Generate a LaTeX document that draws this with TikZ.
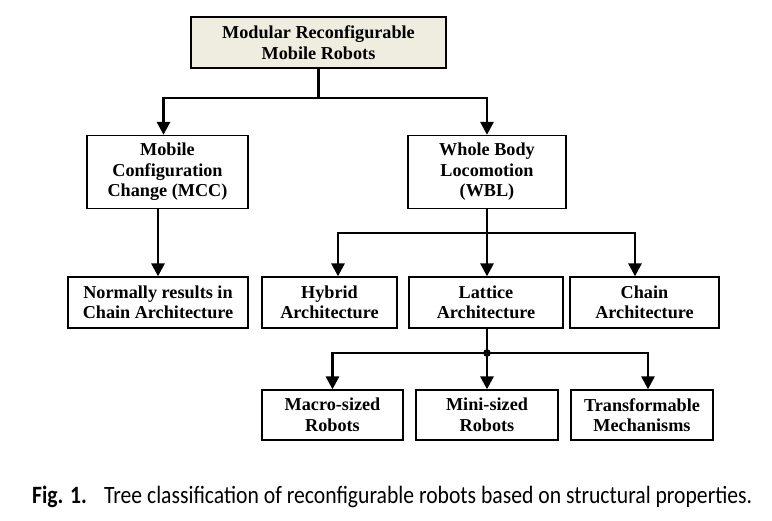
\documentclass[tikz,border=0pt]{standalone}
\usepackage{fontspec}
\setmainfont{Liberation Serif}
\newfontfamily\capfont{Carlito}
\usetikzlibrary{arrows.meta}
\definecolor{topfill}{HTML}{EEEDE0}
\tikzset{
  box/.style={draw=black, line width=1.3pt, align=center, font=\fontsize{18.2}{20.5}\selectfont\bfseries, inner sep=0pt},
  conn/.style={line width=2.8pt},
  arr/.style={conn, -{Triangle[width=13pt,length=13pt]}},
}
\begin{document}
\begin{tikzpicture}[x=1pt,y=-1pt]
\useasboundingbox[fill=white] (0,0) rectangle (772,521);
\node[box, fill=topfill, minimum width=255pt, minimum height=51pt] (top) at (318.5,42.5) {Modular Reconfigurable\\Mobile Robots};
\node[box, minimum width=161pt, minimum height=73pt] (mcc) at (167.5,172) {Mobile\\Configuration\\Change (MCC)};
\node[box, minimum width=158pt, minimum height=73pt] (wbl) at (487,172) {Whole Body\\Locomotion\\(WBL)};
\node[box, minimum width=180pt, minimum height=51pt] (norm) at (158,302.5) {Normally results in\\Chain Architecture};
\node[box, minimum width=135pt, minimum height=51pt] (hyb) at (329.5,302.5) {Hybrid\\Architecture};
\node[box, minimum width=154pt, minimum height=51pt] (lat) at (486,302.5) {Lattice\\Architecture};
\node[box, minimum width=149pt, minimum height=51pt] (chain) at (644.5,302.5) {Chain\\Architecture};
\node[box, minimum width=141pt, minimum height=50pt] (macro) at (332.5,415) {Macro-sized\\Robots};
\node[box, minimum width=142pt, minimum height=50pt] (mini) at (487,415) {Mini-sized\\Robots};
\node[box, minimum width=142pt, minimum height=50pt] (trans) at (642,415) {Transformable\\Mechanisms};
% connectors
\coordinate (j1) at (318.5,98);
\draw[conn] (top.south) -- (j1);
\draw[arr] (j1) -| ([xshift=-4pt]mcc.north);
\draw[arr] (j1) -| (wbl.north);
\draw[arr] (norm.north |- mcc.south) -- (norm.north);
\coordinate (j2) at (487,233);
\draw[conn] (wbl.south) -- (j2);
\draw[arr] (j2) -| ([xshift=8.5pt]hyb.north);
\draw[arr] (j2) -- (j2 |- lat.north);
\draw[arr] (j2) -| ([xshift=-9.5pt]chain.north);
\coordinate (j3) at (487,353);
\draw[conn] (lat.south -| j3) -- (j3);
\draw[arr] (j3) -| (macro.north);
\draw[arr] (j3) -- (mini.north);
\draw[arr] (j3) -| ([xshift=6pt]trans.north);
\fill (j3) circle (3.8pt);
\node[font=\capfont\fontsize{22}{26}\selectfont, anchor=base west, inner sep=0pt] (cap) at (32,504) {\scalebox{1}[1.15]{\resizebox{720pt}{!}{\textbf{Fig. 1.}\hspace{0.5em} Tree classification of reconfigurable robots based on structural properties.}}};
\end{tikzpicture}
\end{document}
